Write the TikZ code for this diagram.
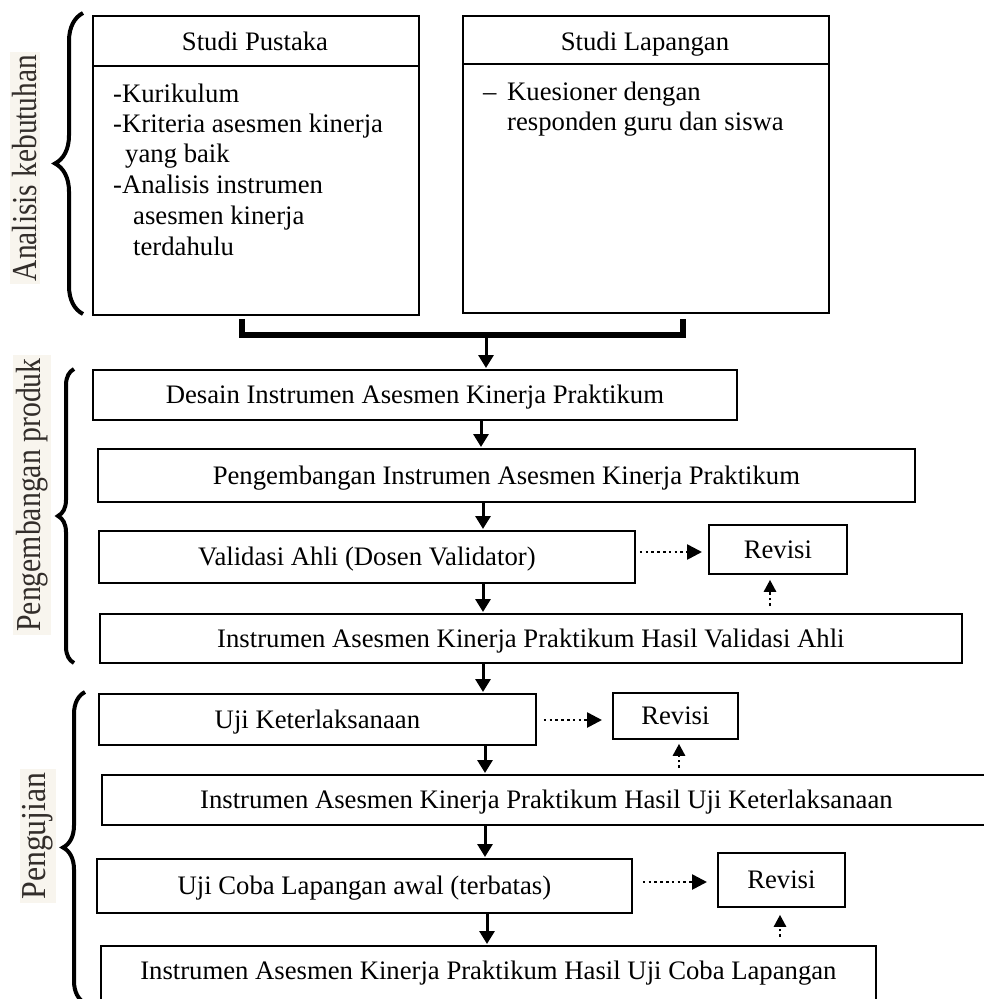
\documentclass[tikz,border=0pt]{standalone}
\usepackage{fontspec}
\usepackage{graphicx}
\setmainfont{Liberation Serif}
\usetikzlibrary{arrows.meta,decorations.pathreplacing}
\definecolor{lbl}{RGB}{50,45,42}
\definecolor{lblbg}{RGB}{248,245,238}
\begin{document}
\begin{tikzpicture}[x=1pt,y=-1pt,
  font=\fontsize{26.7}{30.6}\selectfont,
  box/.style={draw, line width=1.8pt, anchor=north west, inner sep=0pt, align=center, text height=17.6pt, text depth=0pt},
  plain/.style={inner sep=0pt, anchor=base west},
  head/.style={inner sep=0pt, anchor=base},
  arr/.style={line width=3pt, shorten >=1pt, -{Triangle[length=13pt,width=15pt]}},
  dotarr/.style={line width=2.6pt, dash pattern=on 2.6pt off 3.2pt, -{Triangle[length=15pt,width=15pt]}},
  uparr/.style={line width=2.6pt, dash pattern=on 2.6pt off 3pt, -{Triangle[length=12pt,width=12pt]}},
  brc/.style={decorate, line width=4pt, decoration={brace, amplitude=#1}},
  sidelbl/.style={rotate=90, text=lbl, fill=lblbg, inner sep=3pt, font=\fontsize{35}{40}\selectfont},
  bracket/.style={line width=6pt, miter limit=10}]
\useasboundingbox (0,0) rectangle (984,999);

% ---------- Analisis kebutuhan ----------
\node[box, minimum width=326pt, minimum height=299pt] (sp) at (92,15) {};
\node[head] (spH) at (255,50) {Studi Pustaka};
\coordinate (hd1) at (0,66);
\draw[line width=1.8pt] (sp.west |- hd1) -- (sp.east |- hd1);
\node[plain] (sp1) at (113,102) {-Kurikulum};
\node[plain] (sp2) at (113,132) {-Kriteria asesmen kinerja};
\node[plain] (sp3) at (125,162) {yang baik};
\node[plain] (sp4) at (113,193) {-Analisis instrumen};
\node[plain] (sp5) at (133,224) {asesmen kinerja};
\node[plain] (sp6) at (133,255) {terdahulu};

\node[box, minimum width=366pt, minimum height=297pt] (sl) at (462,15) {};
\node[head] (slH) at (645,50) {Studi Lapangan};
\coordinate (hd2) at (0,64);
\draw[line width=1.8pt] (sl.west |- hd2) -- (sl.east |- hd2);
\node[plain] (sld) at (483,100) {\textendash};
\node[plain] (sl1) at (507,100) {Kuesioner dengan};
\node[plain] (sl2) at (507,130) {responden guru dan siswa};

\draw[brc=28pt] (83,314) -- (83,13);
\node[sidelbl] (lab1) at (25,168) {\scalebox{0.84}[1]{Analisis kebutuhan}};

% ---------- Pengembangan produk ----------
\node[box, minimum width=644pt, minimum height=50pt] (desain) at (92,369) {Desain Instrumen Asesmen Kinerja Praktikum};
\node[box, minimum width=817pt, minimum height=53pt] (peng) at (97,448) {Pengembangan Instrumen Asesmen Kinerja Praktikum};
\node[box, minimum width=536pt, minimum height=52pt] (valid) at (98,530) {Validasi Ahli (Dosen Validator)};
\node[box, minimum width=138pt, minimum height=49pt] (rev1) at (708,524) {Revisi};
\node[box, minimum width=862pt, minimum height=49pt] (instrV) at (99,613) {Instrumen Asesmen Kinerja Praktikum Hasil Validasi Ahli};

\draw[brc=16pt] (74,663) -- (74,369);
\node[sidelbl] (lab2) at (32,495) {\scalebox{0.85}[1]{Pengembangan produk}};

% ---------- Pengujian ----------
\node[box, minimum width=437pt, minimum height=51pt] (ujik) at (98,693) {Uji Keterlaksanaan};
\node[box, minimum width=125pt, minimum height=46pt] (rev2) at (612,692) {Revisi};
\node[box, minimum width=889pt, minimum height=50pt] (instrK) at (101,774) {Instrumen Asesmen Kinerja Praktikum Hasil Uji Keterlaksanaan};
\node[box, minimum width=535pt, minimum height=54pt] (ujic) at (96,858) {Uji Coba Lapangan awal (terbatas)};
\node[box, minimum width=127pt, minimum height=54pt] (rev3) at (717,852) {Revisi};
\node[box, minimum width=775pt, minimum height=60pt, text depth=10pt] (instrC) at (100,945) {Instrumen Asesmen Kinerja Praktikum Hasil Uji Coba Lapangan};

\draw[brc=22pt] (85,1003) -- (85,692);
\node[sidelbl] (lab3) at (38,836) {\scalebox{0.91}[1]{Pengujian}};

% ---------- connectors ----------
\coordinate (bl) at (242,0);
\coordinate (br) at (683,0);
\coordinate (j) at (485,335);
\draw[bracket] ([yshift=-3pt]sp.south -| bl) |- (j) -| ([yshift=-5pt]sl.south -| br);
\coordinate (j2) at (486,338);
\coordinate (a0) at (486,0);
\coordinate (a1) at (481,0);
\coordinate (a2) at (483,0);
\coordinate (a3) at (485,0);
\coordinate (a4) at (487,0);
\draw[arr] (j2) -- (desain.north -| a0);
\draw[arr] (desain.south -| a1) -- (peng.north -| a1);
\draw[arr] (peng.south -| a2) -- (valid.north -| a2);
\draw[arr] (valid.south -| a2) -- (instrV.north -| a2);
\draw[arr] (instrV.south -| a2) -- (ujik.north -| a2);
\draw[arr] (ujik.south -| a3) -- (instrK.north -| a3);
\draw[arr] (instrK.south -| a3) -- (ujic.north -| a3);
\draw[arr] (ujic.south -| a4) -- (instrC.north -| a4);

\coordinate (d1) at (0,552);
\coordinate (d2) at (0,720);
\coordinate (d3) at (0,882);
\draw[dotarr, shorten <=4pt, shorten >=6pt] (valid.east |- d1) -- (rev1.west |- d1);
\draw[dotarr, shorten <=7pt, shorten >=10pt] (ujik.east |- d2) -- (rev2.west |- d2);
\draw[dotarr, shorten <=10pt, shorten >=10pt] (ujic.east |- d3) -- (rev3.west |- d3);

\coordinate (u1) at (770,0);
\coordinate (u2) at (679,0);
\coordinate (u3) at (780,0);
\draw[uparr, shorten <=7pt, shorten >=5pt] (instrV.north -| u1) -- (rev1.south -| u1);
\draw[uparr, shorten <=6pt, shorten >=4pt] (instrK.north -| u2) -- (rev2.south -| u2);
\draw[uparr, shorten <=8pt, shorten >=7pt] (instrC.north -| u3) -- (rev3.south -| u3);
\end{tikzpicture}
\end{document}
